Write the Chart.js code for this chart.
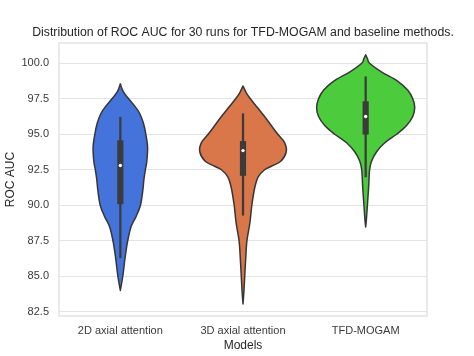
<!DOCTYPE html>
<html>
<head>
<meta charset="utf-8">
<script src="https://cdn.jsdelivr.net/npm/chart.js@4"></script>
<style>
html,body{margin:0;padding:0;background:#fff;}
#wrap{width:474px;height:356px;}
</style>
</head>
<body>
<div id="wrap"><canvas id="c" width="474" height="356"></canvas></div>
<script>
// ---- data ----
const categories = ["2D axial attention", "3D axial attention", "TFD-MOGAM"];
const yTicks = [82.5, 85.0, 87.5, 90.0, 92.5, 95.0, 97.5, 100.0];
const titleText = "Distribution of ROC AUC for 30 runs for TFD-MOGAM and baseline methods.";

// violin outlines: ROC AUC levels and relative density (1 = widest violin)
const v1Levels  = [98.55, 98.0, 97.5, 97.0, 96.5, 95.8, 95.0, 94.1, 93.1, 92.5, 91.8, 91.1, 90.0, 89.2, 88.5, 87.5, 86.4, 85.0, 84.0];
const v1Density = [0, 0.06, 0.17, 0.29, 0.39, 0.47, 0.52, 0.555, 0.54, 0.51, 0.48, 0.46, 0.41, 0.32, 0.22, 0.15, 0.10, 0.05, 0];
const v2Levels  = [98.4, 97.9, 97.5, 96.9, 96.25, 95.6, 95.0, 94.4, 93.75, 93.1, 92.75, 92.5, 92.0, 91.25, 90.0, 88.75, 87.5, 86.25, 85.0, 84.0, 83.05];
const v2Density = [0, 0.07, 0.15, 0.29, 0.44, 0.58, 0.71, 0.85, 0.88, 0.77, 0.58, 0.44, 0.31, 0.24, 0.18, 0.14, 0.08, 0.055, 0.035, 0.02, 0];
const v3Levels  = [100.6, 100.3, 100.0, 99.4, 98.75, 98.1, 97.5, 96.9, 96.25, 95.6, 95.0, 94.4, 93.75, 93.1, 92.5, 91.25, 90.0, 89.0, 88.47];
const v3Density = [0, 0.04, 0.08, 0.32, 0.65, 0.86, 0.96, 1.0, 0.96, 0.83, 0.63, 0.39, 0.22, 0.12, 0.08, 0.06, 0.035, 0.015, 0];

// inner box statistics
const whiskerLow  = [86.3, 89.3, 92.0];
const q1          = [90.1, 92.1, 95.0];
const median      = [92.8, 93.85, 96.25];
const q3          = [94.55, 94.5, 97.3];
const whiskerHigh = [96.2, 96.45, 99.05];

const violinColors = ["#4473db", "#d9764a", "#4ccb3d"];
const violinLevels = [v1Levels, v2Levels, v3Levels];
const violinDensity = [v1Density, v2Density, v3Density];

const FONT = "'Liberation Sans', Arial, Helvetica, sans-serif";

function smoothPath(ctx, pts, moveFirst) {
  if (moveFirst) ctx.moveTo(pts[0].x, pts[0].y); else ctx.lineTo(pts[0].x, pts[0].y);
  for (let i = 0; i < pts.length - 1; i++) {
    const p0 = pts[Math.max(i - 1, 0)], p1 = pts[i], p2 = pts[i + 1], p3 = pts[Math.min(i + 2, pts.length - 1)];
    const t = 1 / 6;
    ctx.bezierCurveTo(p1.x + (p2.x - p0.x) * t, p1.y + (p2.y - p0.y) * t,
                      p2.x - (p3.x - p1.x) * t, p2.y - (p3.y - p1.y) * t,
                      p2.x, p2.y);
  }
}

const violinPlugin = {
  id: 'violins',
  beforeDatasetsDraw(chart) {
    const ctx = chart.ctx, xs = chart.scales.x, ys = chart.scales.y;
    const catW = xs.getPixelForValue(1) - xs.getPixelForValue(0);
    const halfMax = 0.4 * catW;
    ctx.save();
    for (let i = 0; i < categories.length; i++) {
      const cx = xs.getPixelForValue(i);
      const lv = violinLevels[i], dn = violinDensity[i];
      const right = lv.map((v, k) => ({x: cx + dn[k] * halfMax, y: ys.getPixelForValue(v)}));
      const left = lv.map((v, k) => ({x: cx - dn[k] * halfMax, y: ys.getPixelForValue(v)})).reverse();
      ctx.beginPath();
      smoothPath(ctx, right, true);
      smoothPath(ctx, left, false);
      ctx.closePath();
      ctx.fillStyle = violinColors[i];
      ctx.fill();
      ctx.lineWidth = 1.5;
      ctx.strokeStyle = "#363636";
      ctx.lineJoin = 'round';
      ctx.stroke();
    }
    ctx.restore();
  },
  beforeDraw(chart) {
    const ctx = chart.ctx;
    ctx.save();
    ctx.fillStyle = '#fff';
    ctx.fillRect(0, 0, chart.width, chart.height);
    ctx.restore();
  },
  afterDraw(chart) {
    const ctx = chart.ctx, a = chart.chartArea;
    ctx.save();
    ctx.strokeStyle = '#dddddd';
    ctx.lineWidth = 1.2;
    ctx.strokeRect(a.left, a.top, a.right - a.left, a.bottom - a.top);
    ctx.fillStyle = '#262626';
    ctx.font = "12.3px " + FONT;
    ctx.textAlign = 'center';
    ctx.textBaseline = 'middle';
    ctx.fillText(titleText, (a.left + a.right) / 2, 33);
    ctx.restore();
  }
};

new Chart(document.getElementById('c'), {
  type: 'bar',
  data: {
    labels: categories,
    datasets: [
      {
        type: 'line', data: median, showLine: false, order: 0,
        pointRadius: 1.7, pointBackgroundColor: '#ffffff', pointBorderWidth: 0, pointHoverRadius: 1.7
      },
      {
        data: q1.map((v, i) => [v, q3[i]]), backgroundColor: '#3b3b3b', borderWidth: 0,
        barThickness: 5.5, grouped: false, order: 1
      },
      {
        data: whiskerLow.map((v, i) => [v, whiskerHigh[i]]), backgroundColor: '#3b3b3b', borderWidth: 0,
        barThickness: 1.6, grouped: false, order: 2
      }
    ]
  },
  options: {
    responsive: false,
    animation: false,
    events: [],
    layout: {padding: {top: 43, right: 47, left: 0, bottom: 0}},
    plugins: {legend: {display: false}, tooltip: {enabled: false}, title: {display: false}},
    scales: {
      x: {
        offset: true,
        grid: {display: false, drawTicks: false},
        border: {display: false},
        ticks: {font: {family: FONT, size: 11}, color: '#3a3a3a', padding: 8, maxRotation: 0},
        title: {display: true, text: 'Models', font: {family: FONT, size: 12}, color: '#262626', padding: {top: 0, bottom: 3}},
        afterFit(s) { s.height = 40; }
      },
      y: {
        min: 82.2, max: 101.43,
        afterBuildTicks(s) { s.ticks = yTicks.map(v => ({value: v})); },
        grid: {color: '#e3e3e3', lineWidth: 1, drawTicks: false},
        border: {display: false},
        ticks: {font: {family: FONT, size: 11}, color: '#3a3a3a', padding: 10,
                callback: (v) => Number(v).toFixed(1)},
        title: {display: true, text: 'ROC AUC', font: {family: FONT, size: 12}, color: '#262626', padding: {top: 3.5, bottom: 0}},
        afterFit(s) { s.width = 59; }
      }
    }
  },
  plugins: [violinPlugin]
});
</script>
</body>
</html>
